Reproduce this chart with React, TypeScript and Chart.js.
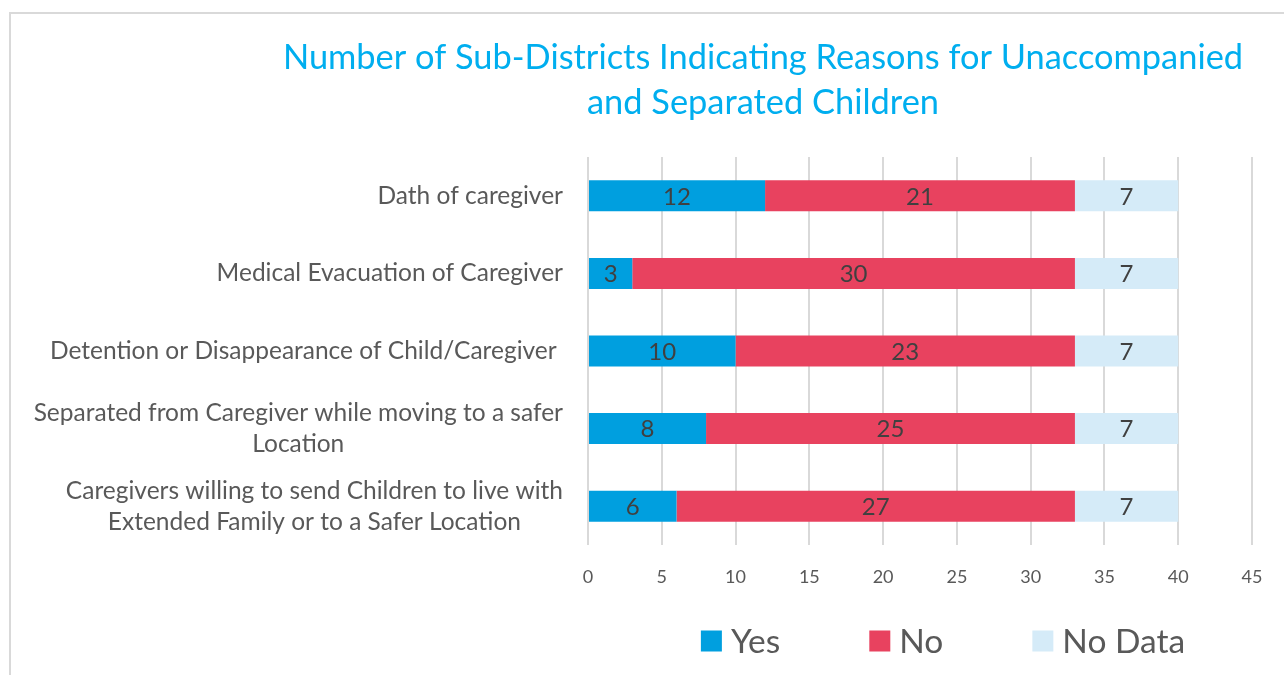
import React, { useEffect, useRef } from "react";
import { Chart, registerables } from "chart.js";

Chart.register(...registerables);

const titleLines = [
  "Number of Sub-Districts Indicating Reasons for Unaccompanied",
  "and Separated Children",
];
const categories = [
  ["Dath of caregiver"],
  ["Medical Evacuation of Caregiver"],
  ["Detention or Disappearance of Child/Caregiver "],
  ["Separated from Caregiver while moving to a safer", "Location"],
  ["Caregivers willing to send Children to live with", "Extended Family or to a Safer Location"],
];
const seriesNames = ["Yes", "No", "No Data"];
const yesValues = [12, 3, 10, 8, 6];
const noValues = [21, 30, 23, 25, 27];
const noDataValues = [7, 7, 7, 7, 7];
const xMin = 0;
const xMax = 45;
const xStep = 5;

const COLORS = ["#009FDF", "#E8425F", "#D5EBF8"];
const FONT = "Lato, 'Open Sans', sans-serif";
const TEXT = "#595959";

const dataLabelPlugin = {
  id: "dataLabels",
  afterDatasetsDraw(chart: any) {
    const ctx = chart.ctx;
    ctx.save();
    ctx.font = `24px ${FONT}`;
    ctx.fillStyle = "#404040";
    ctx.textAlign = "center";
    ctx.textBaseline = "middle";
    chart.data.datasets.forEach((ds: any, di: number) => {
      const meta = chart.getDatasetMeta(di);
      meta.data.forEach((el: any, i: number) => {
        const p = el.getProps(["x", "y", "base"], true);
        ctx.fillText(String(ds.data[i]), (p.x + p.base) / 2, p.y + 1);
      });
    });
    ctx.restore();
  },
};

const yLabelPlugin = {
  id: "yLabels",
  afterDraw(chart: any) {
    const ctx = chart.ctx;
    const yScale = chart.scales.y;
    const right = chart.chartArea.left - 25;
    const lh = 31;
    ctx.save();
    ctx.font = `24.5px ${FONT}`;
    ctx.fillStyle = TEXT;
    ctx.textAlign = "center";
    ctx.textBaseline = "middle";
    categories.forEach((lines, i) => {
      const y = yScale.getPixelForTick(i);
      const w = Math.max(...lines.map((l) => ctx.measureText(l).width));
      const cx = right - w / 2;
      const y0 = y - ((lines.length - 1) * lh) / 2;
      lines.forEach((l, j) => ctx.fillText(l, cx, y0 + j * lh));
    });
    ctx.restore();
  },
};

const legendPlugin = {
  id: "customLegend",
  afterDraw(chart: any) {
    const ctx = chart.ctx;
    ctx.save();
    ctx.font = `33.5px ${FONT}`;
    ctx.textBaseline = "middle";
    ctx.textAlign = "left";
    const box = 21;
    const gap = 9;
    const spacing = 89;
    const widths = seriesNames.map((n) => box + gap + ctx.measureText(n).width);
    const total = widths.reduce((a, b) => a + b, 0) + spacing * (seriesNames.length - 1);
    const centerX = 943;
    const cy = 641;
    let x = centerX - total / 2;
    seriesNames.forEach((n, i) => {
      ctx.fillStyle = COLORS[i];
      ctx.fillRect(x, cy - box / 2, box, box);
      ctx.fillStyle = TEXT;
      ctx.fillText(n, x + box + gap, cy + 1);
      x += widths[i] + spacing;
    });
    ctx.restore();
  },
};

export default function App() {
  const ref = useRef<HTMLCanvasElement | null>(null);
  useEffect(() => {
    if (!ref.current) return;
    const chart = new Chart(ref.current, {
      type: "bar",
      data: {
        labels: categories.map((c) => c.join(" ")),
        datasets: [
          { label: seriesNames[0], data: yesValues, backgroundColor: COLORS[0] },
          { label: seriesNames[1], data: noValues, backgroundColor: COLORS[1] },
          { label: seriesNames[2], data: noDataValues, backgroundColor: COLORS[2] },
        ],
      },
      options: {
        indexAxis: "y",
        responsive: false,
        animation: false,
        maintainAspectRatio: false,
        layout: { padding: { left: 274, right: 32, top: 0, bottom: 85 } },
        datasets: { bar: { categoryPercentage: 1, barPercentage: 0.4, borderWidth: 0 } },
        plugins: {
          legend: { display: false },
          tooltip: { enabled: false },
          title: {
            display: true,
            text: titleLines,
            color: "#00AEEF",
            font: { family: FONT, size: 34.4, weight: "normal", lineHeight: 45 / 34.4 },
            padding: { top: 35.5, bottom: 31.5 },
          },
        },
        scales: {
          x: {
            stacked: true,
            min: xMin,
            max: xMax,
            ticks: { stepSize: xStep, color: TEXT, font: { family: FONT, size: 18 }, padding: 21 },
            grid: { color: "#D9D9D9", lineWidth: 2, drawTicks: false },
            border: { display: false },
            afterFit: (s: any) => { s.height = 45; },
          },
          y: {
            stacked: true,
            ticks: { display: false },
            grid: { display: false },
            border: { display: false },
            afterFit: (s: any) => { s.width = 314; },
          },
        },
      },
      plugins: [dataLabelPlugin, yLabelPlugin, legendPlugin],
    } as any);
    return () => chart.destroy();
  }, []);
  return (
    <div style={{ position: "fixed", left: 0, top: 0, width: 1284, height: 675, background: "#fff", overflow: "hidden" }}>
      <div style={{ position: "absolute", left: 9, top: 12, width: 1300, height: 700, border: "2px solid #D9D9D9", boxSizing: "border-box" }} />
      <canvas ref={ref} width={1284} height={675} style={{ position: "absolute", left: 0, top: 0, width: 1284, height: 675 }} />
    </div>
  );
}
